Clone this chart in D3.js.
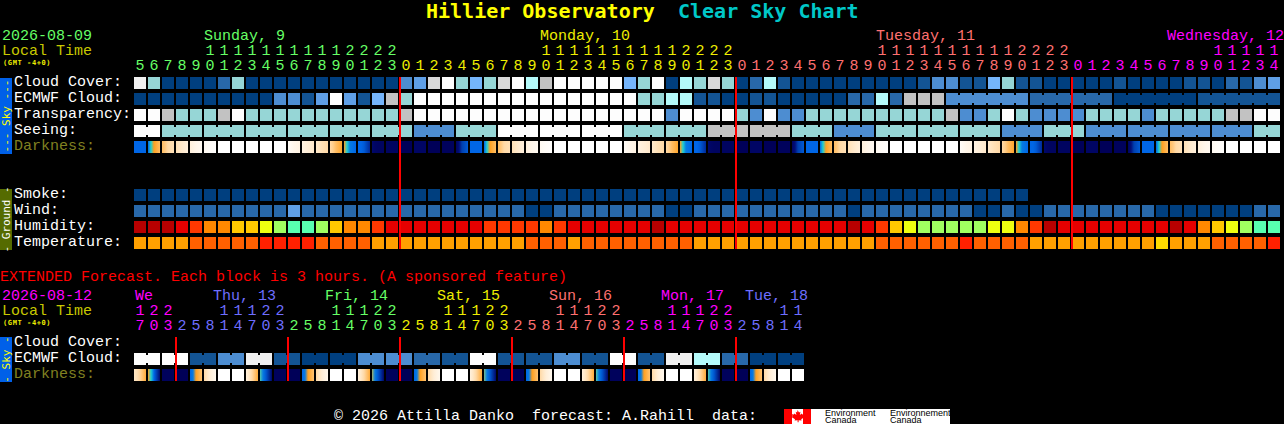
<!DOCTYPE html>
<html><head><meta charset="utf-8">
<style>html,body{margin:0;padding:0;background:#000;overflow:hidden}svg{display:block}</style>
<script src="https://cdn.jsdelivr.net/npm/d3@7/dist/d3.min.js"></script></head><body>
<svg id="c" width="1284" height="424"></svg>
<script>
// ---------- data ----------
const startHour = 5;
const hourCount = 82;
const extHours = [17,20,23,2,5,8,11,14,17,20,23,2,5,8,11,14,17,20,23,2,5,8,11,14,17,20,23,2,5,8,11,14,17,20,23,2,5,8,11,14,17,20,23,2,5,8,11,14];

const cloudCover = [10,6,0,0,0,0,2,6,0,0,0,0,0,0,0,0,0,0,0,3,4,9,11,6,5,6,9,11,7,8,11,11,11,11,11,5,6,11,0,7,6,9,6,0,2,7,1,0,0,0,0,0,0,0,0,0,1,3,3,1,1,5,6,1,1,0,0,0,0,0,1,0,0,0,0,1,1,0,2,1,3,4];
const ecmwfCloud = [0,0,0,0,0,0,0,0,0,0,3,3,1,4,11,4,1,5,8,6,11,11,11,11,11,11,11,11,11,11,11,11,11,11,11,11,6,6,7,7,1,1,0,0,1,1,0,0,0,0,0,2,2,7,2,8,8,8,3,3,3,3,3,3,2,2,2,2,2,2,0,0,0,0,0,0,1,1,1,1,1,1];
const transparency = [11,11,8,6,6,6,8,11,6,6,6,6,6,6,6,6,6,6,6,8,11,11,11,11,11,11,11,11,11,11,11,11,11,11,11,11,11,11,3,11,11,11,11,6,3,11,3,3,6,6,6,6,6,6,6,6,6,6,8,3,3,6,11,6,3,3,3,3,6,6,6,6,3,6,6,6,6,6,8,8,11,11];
const seeing = [11,11,6,6,6,6,6,6,6,6,6,6,6,6,6,6,6,6,6,6,3,3,3,6,6,6,11,11,11,11,11,11,11,11,11,6,6,6,6,6,6,8,8,8,8,8,8,6,6,6,3,3,3,6,6,6,6,6,6,6,6,6,3,3,3,6,6,6,3,3,3,3,3,3,3,3,3,3,3,3,6,6];
const seeingBlocks = [2,3,3,3,3,3,3,3,3,3,3,3,3,3,3,3,3,3,3,3,3,3,3,3,3,3,3,2];
const ecmwfBlocks = [1,1,1,1,1,1,1,1,1,1,1,1,1,1,1,1,1,1,1,1,1,1,1,1,1,1,1,1,1,1,1,1,1,1,1,1,1,1,1,1,1,1,1,1,1,1,1,1,1,1,1,1,1,1,1,1,1,1,6,6,6,6];
const smoke = [0,0,0,0,0,0,0,0,0,0,0,0,0,0,0,0,0,0,0,0,0,0,0,0,0,0,0,0,0,0,0,0,0,0,0,0,0,0,0,0,0,0,0,0,0,0,0,0,0,0,0,0,0,0,0,0,0,0,0,0,0,0,0,0];
const wind = [2,2,2,2,2,2,2,2,2,2,2,4,2,2,2,2,2,2,2,2,2,2,2,2,2,2,2,2,0,0,2,2,2,2,2,2,2,2,0,0,2,2,2,2,2,2,2,2,2,2,2,0,2,2,2,2,2,2,2,2,0,0,2,0,0,2,2,2,2,2,2,2,2,0,0,0,0,0,0,0,2,2];
const humidity = [0,0,0,1,2,3,3,4,4,5,6,7,7,6,4,3,3,2,1,1,1,1,1,1,1,2,2,2,2,3,2,1,1,1,1,1,1,0,1,1,1,1,1,1,1,1,1,1,1,1,1,0,1,2,4,5,6,6,6,6,6,5,5,3,2,0,1,1,1,1,1,1,1,1,0,1,3,4,5,6,7,7];
const temperature = [2,2,2,2,1,1,1,1,1,0,0,0,0,1,1,1,1,2,2,2,2,2,2,2,2,2,2,2,1,1,1,2,1,1,1,1,1,1,1,1,2,2,2,2,2,2,2,2,2,2,2,2,2,1,1,1,1,1,1,0,1,1,1,1,2,2,2,2,2,2,2,2,2,3,2,2,2,1,1,1,1,0];
// darkness sampled at 0, 1/4, 1/2, 1 of each hour block
const darkness = [
[3,3,3,3],[3,4,5,5.5],[5.5,5.7,6,6.3],[6.3,6.5,6.7,7],[7,7.2,7.4,7.6],[7.6,7.7,7.8,7.9],[8,8,8,8],[8,8,8,8],[8,8,8,8],[8,8,8,8],[8,8,8,8],[7.8,7.6,7.4,7.2],[7.2,7,6.9,6.7],[6.7,6.5,6.3,6],[6,5.8,5.5,5.1],[5,4,3.2,3],[3,3,2.7,1.5],[0.5,0.3,0.2,0.2],[0.2,0.2,0.2,0.2],[0,0,0,0],[0.3,0.3,0.3,0.3],[0,0,0,0],[0.1,0.1,0.1,0.1],[0.2,0.8,2,2.7],
[3,3,3,3],[3,4,5,5.5],[5.5,5.7,6,6.3],[6.3,6.5,6.7,7],[7,7.2,7.4,7.6],[7.6,7.7,7.8,7.9],[8,8,8,8],[8,8,8,8],[8,8,8,8],[8,8,8,8],[8,8,8,8],[7.8,7.6,7.4,7.2],[7.2,7,6.9,6.7],[6.7,6.5,6.3,6],[6,5.8,5.5,5.1],[5,4,3.2,3],[3,3,2.7,1.5],[0.5,0.3,0.2,0.2],[0.2,0.2,0.2,0.2],[0,0,0,0],[0.3,0.3,0.3,0.3],[0,0,0,0],[0.1,0.1,0.1,0.1],[0.2,0.8,2,2.7],
[3,3,3,3],[3,4,5,5.5],[5.5,5.7,6,6.3],[6.3,6.5,6.7,7],[7,7.2,7.4,7.6],[7.6,7.7,7.8,7.9],[8,8,8,8],[8,8,8,8],[8,8,8,8],[8,8,8,8],[8,8,8,8],[7.8,7.6,7.4,7.2],[7.2,7,6.9,6.7],[6.7,6.5,6.3,6],[6,5.8,5.5,5.1],[5,4,3.2,3],[3,3,2.7,1.5],[0.5,0.3,0.2,0.2],[0.2,0.2,0.2,0.2],[0,0,0,0],[0.3,0.3,0.3,0.3],[0,0,0,0],[0.1,0.1,0.1,0.1],[0.2,0.8,2,2.7],
[3,3,3,3],[3,4,5,5.5],[5.5,5.7,6,6.3],[6.3,6.5,6.7,7],[7,7.2,7.4,7.6],[7.6,7.7,7.8,7.9],[8,8,8,8],[8,8,8,8],[8,8,8,8],[8,8,8,8]];
const extEcmwf = [11,11,11,11,1,1,3,3,10,10,1,1,0,0,0,0,3,3,3,3,2,2,1,1,11,11,1,1,1,1,3,3,1,1,11,11,1,1,10,10,7,7,2,2,0,0,0,0];
const extDarkness = [
[6.6,6.3,5.9,5.2],[5,4,3,0.5],[0.1,0.1,0.1,0.1],[0,0,0,0],[3,3.2,5,5.6],[6,6.5,6.9,7.5],[8,8,8,8],[8,8,8,8],
[7,6.6,6,5.2],[4.2,3.2,2.6,0.4],[0.1,0.1,0.1,0.1],[0,0,0,0],[3,3.2,5,5.6],[6,6.5,6.9,7.5],[8,8,8,8],[8,8,8,8],
[7,6.6,6,5.2],[4.6,3.2,2.6,0.4],[0.1,0.1,0.1,0.1],[0,0,0,0],[3,3.2,5,5.6],[6,6.5,6.9,7.5],[8,8,8,8],[8,8,8,8],
[7,6.6,6,5.2],[4.4,3.2,2.6,0.4],[0.1,0.1,0.1,0.1],[0,0,0,0],[3,3.2,5,5.6],[6,6.5,6.9,7.5],[8,8,8,8],[8,8,8,8],
[7,6.6,6,5.2],[4.2,3.2,2.6,0.4],[0.1,0.1,0.1,0.1],[0,0,0,0],[3,3.2,5,5.6],[6,6.5,6.9,7.5],[8,8,8,8],[8,8,8,8],
[7,6.6,6,5.2],[4.2,3.2,2.6,0.4],[0.1,0.1,0.1,0.1],[0,0,0,0],[3,3.2,5,5.6],[6,6.5,6.9,7.5],[8,8,8,8],[8,8,8,8]];

const skyLabels = ["Cloud Cover:","ECMWF Cloud:","Transparency:","Seeing:","Darkness:"];
const groundLabels = ["Smoke:","Wind:","Humidity:","Temperature:"];
const extLabels = ["Cloud Cover:","ECMWF Cloud:","Darkness:"];
const dayHeads = [["Sunday, 9",5],["Monday, 10",29],["Tuesday, 11",53],["Wednesday, 12",73.79]];
const extDayHeads = [["We",0],["Thu, 13",5.57],["Fri, 14",13.57],["Sat, 15",21.57],["Sun, 16",29.57],["Mon, 17",37.57],["Tue, 18",43.57]];
const dayPalette = ["#66ff66","#eeee00","#ff7070","#ff00ff"];
const extPalette = ["#ff00ff","#6e6eff","#66ff66","#eeee00","#ff7070","#ff00ff","#6e6eff"];
const cloudColors = ["#003f7f","#135494","#2868a9","#4d8dd1","#5f9fe6","#75b5fb","#96d6d6","#b4fafa","#c2c2c2","#d9d9d9","#f0f0f0","#fdfdfd"];
const humColors = ["#b80000","#e60000","#ff3800","#ff8800","#ffc800","#eeff10","#a0ff60","#58ffb0"];
const tempColors = ["#ff2000","#ff6000","#ffa000","#ffdc00"];
const darkColors = ["#000058","#001280","#0040b0","#0066e6","#20d0d0","#ffa020","#ffd9a6","#fff0dc","#ffffff"];

// ---------- scales ----------
const x = d3.scaleLinear().domain([0,hourCount]).range([134,134+14*hourCount]);
const rowY = d3.scaleLinear().domain([0,1]).range([77,93]);   // rows in units of 16px
const darkScale = d3.scaleLinear().domain(d3.range(darkColors.length)).range(darkColors).interpolate(d3.interpolateRgb);
const cloudScale = d3.scaleOrdinal(d3.range(12),cloudColors);
const humScale = d3.scaleOrdinal(d3.range(8),humColors);
const tempScale = d3.scaleOrdinal(d3.range(4),tempColors);

const svg = d3.select("#c");
svg.append("rect").attr("width",1284).attr("height",424).attr("fill","#000");
const defs = svg.append("defs");
const FONT = "'Liberation Mono',monospace";
const BOLD = "'DejaVu Sans Mono',monospace";
function txt(s,tx,ty,fill,opt={}){
  return svg.append("text").attr("x",tx).attr("y",ty).attr("fill",fill)
    .attr("font-family",opt.family||FONT).attr("font-size",opt.size||15)
    .attr("font-weight",opt.weight||"normal")
    .attr("letter-spacing",opt.spacing||0)
    .attr("text-anchor",opt.anchor||"start").attr("xml:space","preserve").text(s);
}
const cellW = 12, cellH = 12;
function row(values,rowIndex,scale){
  svg.append("g").selectAll("rect").data(values).join("rect")
    .attr("x",(d,i)=>x(i)).attr("y",rowY(rowIndex))
    .attr("width",cellW).attr("height",cellH).attr("fill",d=>scale(d));
}
function connectors(values,blocks,rowIndex,scale){
  let pos=0; const links=[];
  blocks.forEach(b=>{ for(let k=0;k<b-1;k++) links.push(pos+k); pos+=b; });
  svg.append("g").selectAll("rect").data(links).join("rect")
    .attr("x",d=>x(d)+cellW).attr("y",rowY(rowIndex)+2)
    .attr("width",2).attr("height",cellH-4).attr("fill",d=>scale(values[d]));
}
function darkRow(values,rowIndex,prefix){
  values.forEach((v,i)=>{
    const g=defs.append("linearGradient").attr("id",prefix+i);
    [0,.25,.5,1].forEach((o,j)=>g.append("stop").attr("offset",o).attr("stop-color",darkScale(v[j])));
  });
  svg.append("g").selectAll("rect").data(values).join("rect")
    .attr("x",(d,i)=>x(i)).attr("y",rowY(rowIndex))
    .attr("width",cellW).attr("height",cellH).attr("fill",(d,i)=>`url(#${prefix}${i})`);
}

// title
txt("Hillier Observatory",426,18,"#ffff00",{size:20,weight:"bold",family:BOLD});
txt("Clear Sky Chart",678,18,"#00c8c8",{size:20,weight:"bold",family:BOLD});

// top header
txt("2026-08-09",2,39.5,"#66ff66");
txt("Local Time",2,55,"#c8c800");
txt("(GMT -4+0)",3,65,"#eeee00",{size:7,weight:"bold",family:BOLD,spacing:0.6});
dayHeads.forEach((d,i)=>txt(d[0],x(d[1]),39.5,dayPalette[i]));
d3.range(hourCount).forEach(i=>{
  const total=startHour+i, h=total%24, day=Math.floor(total/24);
  const c=dayPalette[day];
  if(h>=10) txt(String(Math.floor(h/10)),x(i)+cellW/2,54.5,c,{anchor:"middle"});
  txt(String(h%10),x(i)+cellW/2,69.5,c,{anchor:"middle"});
});

// sky block
svg.append("rect").attr("x",0).attr("y",78).attr("width",12).attr("height",76).attr("fill","#0060e8");
svg.append("text").attr("transform","translate(10,116) rotate(-90)").attr("text-anchor","middle")
  .attr("font-family",BOLD).attr("font-size",11).attr("fill","#ffff00").attr("xml:space","preserve").text("--- Sky ---");
skyLabels.forEach((s,i)=>txt(s,14,rowY(i)+9,i===4?"#808020":"#ffffff"));
row(cloudCover,0,cloudScale);
row(ecmwfCloud,1,cloudScale); connectors(ecmwfCloud,ecmwfBlocks,1,cloudScale);
row(transparency,2,cloudScale);
row(seeing,3,cloudScale); connectors(seeing,seeingBlocks,3,cloudScale);
darkRow(darkness,4,"d");

// ground block
svg.append("rect").attr("x",0).attr("y",189).attr("width",12).attr("height",61).attr("fill","#556b00");
svg.append("text").attr("transform","translate(10,219.5) rotate(-90)").attr("text-anchor","middle")
  .attr("font-family",BOLD).attr("font-size",11).attr("fill","#ffffff").attr("xml:space","preserve").text("- Ground -");
groundLabels.forEach((s,i)=>txt(s,14,rowY(7+i)+9,"#ffffff"));
row(smoke,7,cloudScale);
row(wind,8,cloudScale);
row(humidity,9,humScale);
row(temperature,10,tempScale);

// day separators
const sepTop = d3.range(0,3).map(k=>19+24*k);
svg.append("g").selectAll("rect").data(sepTop).join("rect")
  .attr("x",d=>x(d)-1).attr("y",rowY(0)).attr("width",2).attr("height",rowY(11)-rowY(0)-4).attr("fill","#ff0000");

// extended
txt("EXTENDED Forecast. Each block is 3 hours. (A sponsored feature)",0,280.5,"#ff0000");
txt("2026-08-12",2,300,"#ff00ff");
txt("Local Time",2,315,"#c8c800");
txt("(GMT -4+0)",3,325,"#eeee00",{size:7,weight:"bold",family:BOLD,spacing:0.6});
extDayHeads.forEach((d,i)=>txt(d[0],x(d[1])+1,300,extPalette[i]));
extHours.forEach((h,i)=>{
  const c=extPalette[Math.floor((i+5)/8)];
  if(h>=10) txt(String(Math.floor(h/10)),x(i)+cellW/2,315,c,{anchor:"middle"});
  txt(String(h%10),x(i)+cellW/2,330,c,{anchor:"middle"});
});
svg.append("rect").attr("x",0).attr("y",337).attr("width",12).attr("height",45).attr("fill","#0060e8");
svg.append("text").attr("transform","translate(10,359.5) rotate(-90)").attr("text-anchor","middle")
  .attr("font-family",BOLD).attr("font-size",11).attr("fill","#ffff00").attr("xml:space","preserve").text("- Sky -");
extLabels.forEach((s,i)=>txt(s,14,rowY(16.25+i)+9,i===2?"#808020":"#ffffff"));
row(extEcmwf,17.25,cloudScale);
connectors(extEcmwf,d3.range(24).map(()=>2),17.25,cloudScale);
darkRow(extDarkness,18.25,"e");
const sepExt = d3.range(0,6).map(k=>3+8*k);
svg.append("g").selectAll("rect").data(sepExt).join("rect")
  .attr("x",d=>x(d)-1).attr("y",rowY(16.25)).attr("width",2).attr("height",44).attr("fill","#ff0000");

// footer
txt("\u00a9 2026 Attilla Danko  forecast: A.Rahill  data:",334,420,"#ffffff");
svg.append("rect").attr("x",784).attr("y",409).attr("width",166).attr("height",15).attr("fill","#ffffff");
svg.append("rect").attr("x",784).attr("y",409).attr("width",8).attr("height",15).attr("fill","#ff0000");
svg.append("rect").attr("x",803).attr("y",409).attr("width",8).attr("height",15).attr("fill","#ff0000");
svg.append("path").attr("fill","#ff0000").attr("d","M797.5 410 l1.5 2.5 1.5 -.8 -.7 3.3 2 -1.6 .6 1.2 2 -.3 -.7 2 1 .6 -3.5 2.4 .4 1.2 -3 -.3 v2 h-1 v-2 l-3 .3 .4 -1.2 -3.5 -2.4 1 -.6 -.7 -2 2 .3 .6 -1.2 2 1.6 -.7 -3.3 1.5 .8z");
const sans="'Liberation Sans',sans-serif";
defs.append("clipPath").attr("id","logo").append("rect").attr("x",784).attr("y",409).attr("width",166).attr("height",15);
txt("Environment",825,415.5,"#000",{family:sans,size:9});
txt("Canada",825,423,"#000",{family:sans,size:9});
txt("Environnement",890,415.5,"#000",{family:sans,size:9}).attr("clip-path","url(#logo)");
txt("Canada",890,423,"#000",{family:sans,size:9});
</script></body></html>
